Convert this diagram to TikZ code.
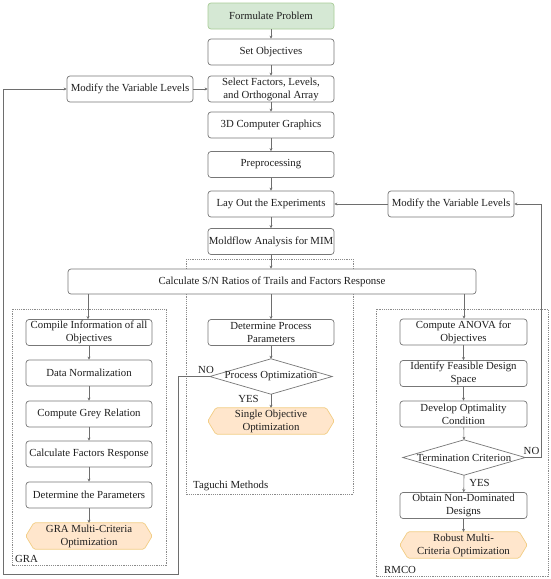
\documentclass[tikz,border=0pt]{standalone}
\usepackage{fontspec}
\setmainfont{Liberation Serif}
\usetikzlibrary{arrows.meta,backgrounds}
\definecolor{lineg}{HTML}{6E6E6E}
\definecolor{boxg}{HTML}{777777}
\definecolor{greenf}{HTML}{D5E8D4}
\definecolor{greend}{HTML}{A9CC98}
\definecolor{orangef}{HTML}{FFE6CC}
\definecolor{oranged}{HTML}{F2CD84}
\definecolor{txt}{HTML}{1E1E1E}
\tikzset{
  every node/.style={font=\fontsize{10.8}{13}\selectfont, text=txt, align=center},
  stepbox/.style={draw=boxg, line width=0.7pt, rounded corners=3pt, fill=white,
    minimum width=126pt, minimum height=26pt, inner sep=0pt},
  startbox/.style={stepbox, fill=greenf, draw=greend},
  plainbox/.style={minimum width=126pt, minimum height=26pt, inner sep=0pt},
  decbox/.style={minimum width=122pt, minimum height=35pt, inner sep=0pt},
  hexline/.style={draw=oranged, fill=orangef, line width=0.7pt, rounded corners=1.5pt},
  decline/.style={draw=boxg, fill=white, line width=0.7pt},
  conn/.style={draw=lineg, line width=0.6pt, -{Stealth[length=3pt,width=3pt]}},
  group/.style={draw=lineg!80, line width=0.5pt, dash pattern=on 1.2pt off 1pt},
  lbl/.style={inner sep=0pt}
}
\newcommand\hexdraw[1]{\path[hexline] ([xshift=8pt]#1.north west) -- ([xshift=-8pt]#1.north east) -- (#1.east) -- ([xshift=-8pt]#1.south east) -- ([xshift=8pt]#1.south west) -- (#1.west) -- cycle;}
\newcommand\diadraw[1]{\path[decline] (#1.west) -- (#1.north) -- (#1.east) -- (#1.south) -- cycle;}
\begin{document}
\begin{tikzpicture}[x=1pt,y=-1pt]
\useasboundingbox (0,0) rectangle (550,579);
% group frames
\draw[group] (12,309) rectangle (166,565);
\draw[group] (186,259) rectangle (353,494);
\draw[group] (376,309) rectangle (548,576);
% main column
\node[startbox] (f1) at (271,16) {Formulate Problem};
\node[stepbox] (f2) at (271,52) {Set Objectives};
\node[stepbox] (f3) at (271,89) {Select Factors, Levels,\\and Orthogonal Array};
\node[stepbox] (f4) at (271,125) {3D Computer Graphics};
\node[stepbox] (f5) at (271,164.5) {Preprocessing};
\node[stepbox] (f6) at (271,204) {Lay Out the Experiments};
\node[stepbox] (f7) at (271,241.5) {Moldflow Analysis for MIM};
\node[stepbox, minimum width=408pt, minimum height=25pt] (calc) at (272,281.5) {Calculate S/N Ratios of Trails and Factors Response};
\node[stepbox] (modL) at (130,89) {Modify the Variable Levels};
\node[stepbox] (modR) at (451,204) {Modify the Variable Levels};
% GRA
\node[stepbox] (g1) at (89,332.5) {Compile Information of all\\Objectives};
\node[stepbox] (g2) at (89,373) {Data Normalization};
\node[stepbox] (g3) at (89,414) {Compute Grey Relation};
\node[stepbox] (g4) at (89,454) {Calculate Factors Response};
\node[stepbox] (g5) at (89,495) {Determine the Parameters};
\node[plainbox] (g6) at (89,536) {GRA Multi-Criteria\\Optimization};
% Taguchi
\node[stepbox] (t1) at (271,332.5) {Determine Process\\Parameters};
\node[decbox] (t2) at (271,376.5) {Process Optimization};
\node[plainbox] (t3) at (271,421) {Single Objective\\Optimization};
% RMCO
\node[stepbox, minimum width=127pt] (r1) at (463.5,332) {Compute ANOVA for\\Objectives};
\node[stepbox, minimum width=127pt] (r2) at (463.5,373.5) {Identify Feasible Design\\Space};
\node[stepbox, minimum width=127pt] (r3) at (463.5,414) {Develop Optimality\\Condition};
\node[decbox] (r4) at (464,457.5) {Termination Criterion};
\node[stepbox, minimum width=127pt] (r5) at (463.5,505.5) {Obtain Non-Dominated\\Designs};
\node[plainbox, minimum width=127pt] (r6) at (463.5,545) {Robust Multi-\\Criteria Optimization};
% shapes behind text
\begin{scope}[on background layer]
\fill[white] (0,0) rectangle (550,579);
\hexdraw{g6}
\hexdraw{t3}
\hexdraw{r6}
\diadraw{t2}
\diadraw{r4}
\end{scope}
% labels
\node[lbl, anchor=west] (lgra) at (15,559) {GRA};
\node[lbl, anchor=west] (ltag) at (193,485.5) {Taguchi Methods};
\node[lbl, anchor=west] (lrm) at (384,569.5) {RMCO};
\node[lbl] (no1) at (206,369.5) {NO};
\node[lbl] (yes1) at (248.5,399) {YES};
\node[lbl] (no2) at (531.5,450.5) {NO};
\node[lbl] (yes2) at (479.5,482.5) {YES};
% coordinates for loops
\coordinate (a1) at (178,376.5);
\coordinate (a2) at (178,574);
\coordinate (a3) at (3,574);
\coordinate (a4) at (3,89);
\coordinate (b1) at (541,457.5);
\coordinate (b2) at (541,204);
% connectors main
\draw[conn] (f1) -- (f2);
\draw[conn] (f2) -- (f3);
\draw[conn] (f3) -- (f4);
\draw[conn] (f4) -- (f5);
\draw[conn] (f5) -- (f6);
\draw[conn] (f6) -- (f7);
\draw[conn] (f7) -- (f7 |- calc.north);
\draw[conn] (modL) -- (f3);
\draw[conn] (modR) -- (f6);
\draw[conn] (calc.south -| 88,0) -- (88,0 |- g1.north);
\draw[conn] (calc.south -| t1.north) -- (t1.north);
\draw[conn] (calc.south -| 464,0) -- (464,0 |- r1.north);
% GRA chain
\draw[conn] (g1) -- (g2);
\draw[conn] (g2) -- (g3);
\draw[conn] (g3) -- (g4);
\draw[conn] (g4) -- (g5);
\draw[conn] (g5) -- (g6);
% Taguchi chain
\draw[conn] (t1) -- (t2.north);
\draw[conn] (t2.south) -- (t3);
\draw[conn] (t2.west) -- (a1) -- (a2) -- (a3) -- (a4) -- (modL.west);
% RMCO chain
\draw[conn] (r1) -- (r2);
\draw[conn] (r2) -- (r3);
\draw[conn] (r3) -- (r4.north);
\draw[conn] (r4.south) -- (r5);
\draw[conn] (r5) -- (r6);
\draw[conn] (r4.east) -- (b1) -- (b2) -- (modR.east);
\end{tikzpicture}
\end{document}
